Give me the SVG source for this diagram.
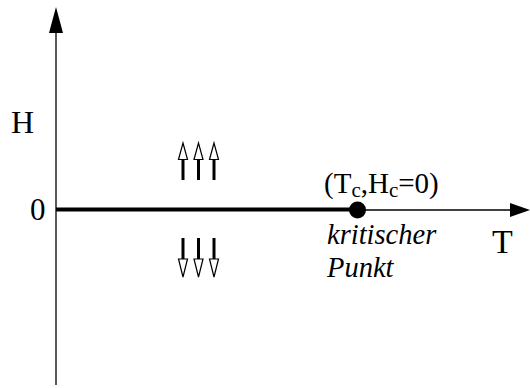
<svg xmlns="http://www.w3.org/2000/svg" width="530" height="388" viewBox="0 0 530 388">
<style>
.t{font-family:"Liberation Serif","DejaVu Serif",serif;fill:#000}
.it{font-family:"Liberation Serif","DejaVu Serif",serif;font-style:italic;fill:#000}
.ax{stroke:#000;stroke-width:1.3;fill:none}
.sp{stroke:#000;stroke-width:3;fill:none}
.hd{fill:#fff;stroke:#000;stroke-width:1.2}
</style>
<rect width="530" height="388" fill="#fff"/>
<g id="connectors">
<line class="ax" x1="56" y1="385" x2="56" y2="30"/>
<polygon points="56,7 49,33 63,33" fill="#000"/>
<line class="ax" x1="56" y1="210" x2="512" y2="210"/>
<polygon points="530,210 510,203 510,217" fill="#000"/>
<line x1="56" y1="209.5" x2="357" y2="209.5" stroke="#000" stroke-width="4"/>
</g>
<g id="critical-point">
<circle cx="357.5" cy="210" r="8.5" fill="#000"/>
<text class="t" x="324" y="193" font-size="29">(T<tspan font-size="21" dy="4">c</tspan><tspan dy="-4">,H</tspan><tspan font-size="21" dy="4">c</tspan><tspan dy="-4">=0)</tspan></text>
<text class="it" x="327" y="244" font-size="28.5">kritischer</text>
<text class="it" x="327" y="277" font-size="28.5">Punkt</text>
</g>
<g id="label-H"><text class="t" x="11" y="133" font-size="32">H</text></g>
<g id="label-0"><text class="t" x="30" y="220" font-size="31">0</text></g>
<g id="label-T"><text class="t" x="492" y="253" font-size="34">T</text></g>
<g id="spins-up">
<line class="sp" x1="183" y1="180" x2="183" y2="159"/>
<polygon class="hd" points="183,143 178.5,159.5 187.5,159.5"/>
<line class="sp" x1="198.5" y1="180" x2="198.5" y2="159"/>
<polygon class="hd" points="198.5,143 194,159.5 203,159.5"/>
<line class="sp" x1="214" y1="180" x2="214" y2="159"/>
<polygon class="hd" points="214,143 209.5,159.5 218.5,159.5"/>
</g>
<g id="spins-down">
<line class="sp" x1="183" y1="238" x2="183" y2="259"/>
<polygon class="hd" points="183,277 178.5,259 187.5,259"/>
<line class="sp" x1="198.5" y1="238" x2="198.5" y2="259"/>
<polygon class="hd" points="198.5,277 194,259 203,259"/>
<line class="sp" x1="214" y1="238" x2="214" y2="259"/>
<polygon class="hd" points="214,277 209.5,259 218.5,259"/>
</g>
</svg>
